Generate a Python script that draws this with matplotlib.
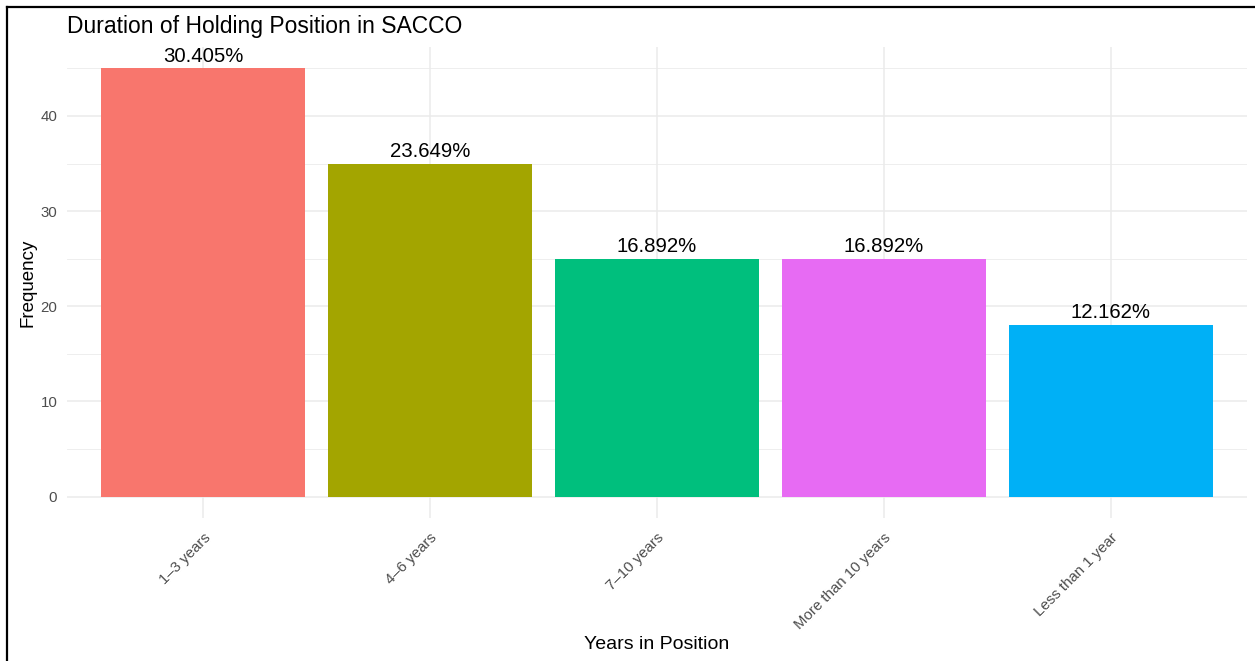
import matplotlib.pyplot as plt
from matplotlib.lines import Line2D
from matplotlib.ticker import MultipleLocator

categories = ['1–3 years', '4–6 years', '7–10 years', 'More than 10 years', 'Less than 1 year']
counts = [45, 35, 25, 25, 18]
colors = ['#F8766D', '#A3A500', '#00BF7D', '#E76BF3', '#00B0F6']

plt.rcParams['font.family'] = ['Liberation Sans', 'DejaVu Sans']

W, H = 1255, 661
fig = plt.figure(figsize=(W / 100, H / 100), dpi=100)
ax = fig.add_axes([67 / W, (H - 518) / H, (1247 - 67) / W, (518 - 47) / H])

x = list(range(len(categories)))
total = sum(counts)
ax.bar(x, counts, width=0.9, color=colors, zorder=2)
for xi, c in zip(x, counts):
    ax.text(xi, c + 0.3, f'{100 * c / total:.3f}%', ha='center', va='bottom',
            fontsize=14.7, color='black', zorder=3)

ax.set_xlim(-0.6, len(categories) - 0.4)
ax.set_ylim(-2.25, 47.25)
ax.yaxis.set_major_locator(MultipleLocator(10))
ax.yaxis.set_minor_locator(MultipleLocator(5))
ax.set_xticks(x)
ax.set_xticklabels(categories, rotation=45, ha='right', rotation_mode='anchor')
ax.tick_params(axis='both', length=0, labelsize=10.8, colors='#4d4d4d')
ax.tick_params(axis='x', pad=9)
ax.tick_params(axis='y', pad=7)
ax.tick_params(which='minor', length=0)

ax.grid(True, which='major', color='#EBEBEB', linewidth=1.1, zorder=0)
ax.grid(True, which='minor', axis='y', color='#EBEBEB', linewidth=0.6, zorder=0)
ax.set_axisbelow(True)
for s in ax.spines.values():
    s.set_visible(False)

ax.set_ylabel('Frequency', fontsize=13.5, color='black')
ax.yaxis.set_label_coords(-(67 - 36) / (1247 - 67), 0.5)
ax.set_xlabel('Years in Position', fontsize=14, color='black')
ax.xaxis.set_label_coords((657 - 67) / (1247 - 67), -(636 - 518) / (518 - 47))
fig.text(67 / W, 1 - 27 / H, 'Duration of Holding Position in SACCO',
         fontsize=16.5, ha='left', va='center', color='black')

# screenshot border at top and left
fig.add_artist(Line2D([7 / W, 1], [1 - 7 / H, 1 - 7 / H], color='black', linewidth=1.6))
fig.add_artist(Line2D([7 / W, 7 / W], [0, 1 - 7 / H], color='black', linewidth=1.6))

fig.savefig('out.png', dpi=100)
